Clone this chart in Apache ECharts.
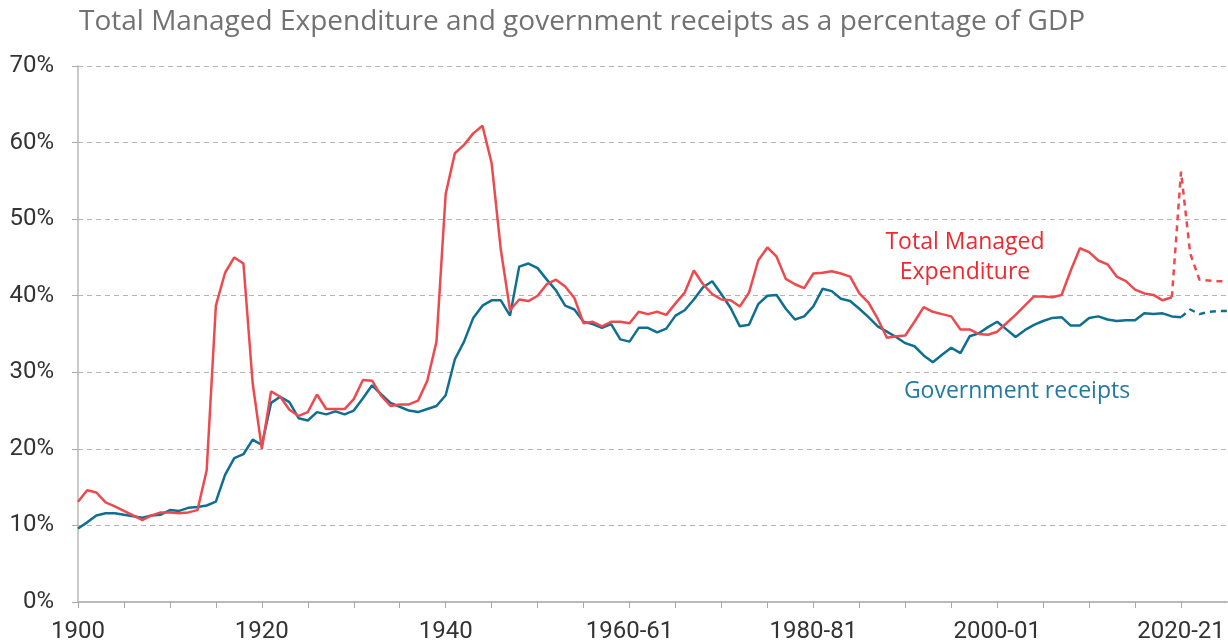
<!DOCTYPE html>
<html lang="en">
<head>
    <meta charset="UTF-8">
    <title>TME and receipts</title>
    <script src="https://cdn.jsdelivr.net/npm/echarts@6/dist/echarts.min.js"></script>
    <style>
        html, body { margin: 0; padding: 0; background: #fff; }
    </style>
</head>
<body>
<div id="main" style="width: 1228px;height: 644px"></div>

<script>
    // years 1900 .. 2025, one value a year
    var startYear = 1900;
    var lastOutturn = 2019;   // dashed line after this year (forecast)
    var lastReceiptOutturn = 2020;

    var tme = [
        13.1, 14.6, 14.3, 13.0, 12.5, 11.9, 11.3, 10.7, 11.3, 11.7,
        11.7, 11.6, 11.7, 12.0, 17.2, 38.7, 43.0, 45.0, 44.2, 28.6,
        20.0, 27.5, 26.8, 25.1, 24.3, 24.8, 27.1, 25.2, 25.2, 25.2,
        26.5, 29.0, 28.9, 26.9, 25.6, 25.8, 25.8, 26.3, 28.9, 34.0,
        53.3, 58.6, 59.7, 61.2, 62.2, 57.3, 46.0, 38.1, 39.5, 39.3,
        40.0, 41.5, 42.1, 41.2, 39.7, 36.4, 36.6, 36.0, 36.6, 36.6,
        36.4, 37.9, 37.6, 37.9, 37.5, 39.0, 40.4, 43.3, 41.5, 40.2,
        39.5, 39.4, 38.6, 40.4, 44.6, 46.3, 45.1, 42.2, 41.5, 41.0,
        42.9, 43.0, 43.2, 42.9, 42.5, 40.3, 39.1, 37.0, 34.5, 34.7,
        34.8, 36.6, 38.5, 37.9, 37.6, 37.3, 35.6, 35.6, 35.0, 34.9,
        35.3, 36.4, 37.5, 38.7, 39.9, 39.9, 39.8, 40.1, 43.3, 46.2,
        45.7, 44.6, 44.1, 42.5, 41.9, 40.8, 40.3, 40.1, 39.4, 39.8,
        56.2, 45.5, 42.1, 42.0, 41.9, 41.9
    ];

    var receipts = [
        9.6, 10.4, 11.3, 11.6, 11.6, 11.4, 11.2, 11.0, 11.3, 11.4,
        12.0, 11.9, 12.3, 12.4, 12.6, 13.1, 16.6, 18.8, 19.3, 21.2,
        20.5, 26.0, 26.8, 26.1, 24.0, 23.7, 24.8, 24.5, 24.9, 24.5,
        25.0, 26.6, 28.3, 27.1, 26.0, 25.5, 25.0, 24.8, 25.2, 25.6,
        27.0, 31.7, 34.0, 37.1, 38.7, 39.4, 39.4, 37.4, 43.8, 44.2,
        43.6, 42.1, 40.7, 38.7, 38.2, 36.6, 36.3, 35.8, 36.3, 34.3,
        34.0, 35.8, 35.8, 35.2, 35.7, 37.4, 38.1, 39.5, 41.1, 41.9,
        40.2, 38.4, 36.0, 36.2, 38.9, 40.0, 40.1, 38.3, 36.9, 37.3,
        38.6, 40.9, 40.6, 39.6, 39.3, 38.3, 37.2, 36.0, 35.3, 34.6,
        33.8, 33.4, 32.2, 31.3, 32.3, 33.2, 32.5, 34.7, 35.1, 35.9,
        36.6, 35.6, 34.6, 35.5, 36.2, 36.7, 37.1, 37.2, 36.1, 36.1,
        37.1, 37.3, 36.9, 36.7, 36.8, 36.8, 37.7, 37.6, 37.7, 37.3,
        37.2, 38.2, 37.6, 37.9, 38.0, 38.0
    ];

    var yTicks = [0, 10, 20, 30, 40, 50, 60, 70];

    var red = '#EC4A4E';
    var blue = '#0F6F91';

    function split(values, cut) {
        var solid = [], dashed = [];
        for (var i = 0; i < values.length; i++) {
            var yr = startYear + i;
            if (yr <= cut) solid.push([yr, values[i]]);
            if (yr >= cut) dashed.push([yr, values[i]]);
        }
        return [solid, dashed];
    }

    var tmeParts = split(tme, lastOutturn);
    var recParts = split(receipts, lastReceiptOutturn);

    var myChart = echarts.init(document.getElementById('main'));

    var axisFont = '"Liberation Sans Narrow", "Roboto", sans-serif';
    var textFont = '"Open Sans", Lato, sans-serif';

    var option = {
        animation: false,
        title: {
            text: 'Total Managed Expenditure and government receipts as a percentage of GDP',
            left: 74,
            top: 3,
            textStyle: {
                fontFamily: textFont,
                fontSize: 28,
                fontWeight: 'normal',
                color: '#727272'
            }
        },
        grid: {
            left: 78,
            right: 1,
            top: 66,
            bottom: 42
        },
        xAxis: {
            type: 'value',
            min: 1900,
            max: 2025,
            interval: 5,
            axisLine: { lineStyle: { color: '#b9b9b9', width: 2 } },
            axisTick: { show: true, length: 6, lineStyle: { color: '#a9a9a9' } },
            splitLine: { show: false },
            axisLabel: {
                color: '#333',
                fontFamily: axisFont,
                fontSize: 24,
                margin: 18,
                showMaxLabel: false,
                formatter: function (v) {
                    if (v % 20 !== 0) return '';
                    if (v >= 1960) return v + '-' + String(v + 1).slice(2);
                    return String(v);
                }
            }
        },
        yAxis: {
            type: 'value',
            min: yTicks[0],
            max: yTicks[yTicks.length - 1],
            interval: 10,
            axisLine: { show: true, lineStyle: { color: '#b9b9b9', width: 1.5 } },
            axisTick: { show: true, length: 6, lineStyle: { color: '#a9a9a9' } },
            splitLine: {
                show: true,
                lineStyle: { color: '#b5b5b5', type: [5, 4], width: 1 }
            },
            axisLabel: {
                color: '#333',
                fontFamily: axisFont,
                fontSize: 24,
                margin: 24,
                formatter: '{value}%'
            }
        },
        series: [
            {
                name: 'Government receipts',
                type: 'line',
                data: recParts[0],
                showSymbol: false,
                lineStyle: { color: blue, width: 2.5 },
                z: 2
            },
            {
                name: 'Government receipts forecast',
                type: 'line',
                data: recParts[1],
                showSymbol: false,
                lineStyle: { color: blue, width: 2.5, type: [6, 5] },
                z: 2
            },
            {
                name: 'Total Managed Expenditure',
                type: 'line',
                data: tmeParts[0],
                showSymbol: false,
                lineStyle: { color: red, width: 2.5 },
                z: 3
            },
            {
                name: 'Total Managed Expenditure forecast',
                type: 'line',
                data: tmeParts[1],
                showSymbol: false,
                lineStyle: { color: red, width: 2.5, type: [6, 5] },
                z: 3
            }
        ],
        graphic: [
            {
                type: 'text',
                x: 965,
                y: 227,
                style: {
                    text: 'Total Managed\nExpenditure',
                    fill: '#EE2A2F',
                    font: '23px ' + textFont,
                    align: 'center',
                    lineHeight: 30
                }
            },
            {
                type: 'text',
                x: 1017,
                y: 380,
                style: {
                    text: 'Government receipts',
                    fill: '#2379A2',
                    font: '23px ' + textFont,
                    align: 'center'
                }
            }
        ]
    };

    myChart.setOption(option);
</script>
</body>
</html>
